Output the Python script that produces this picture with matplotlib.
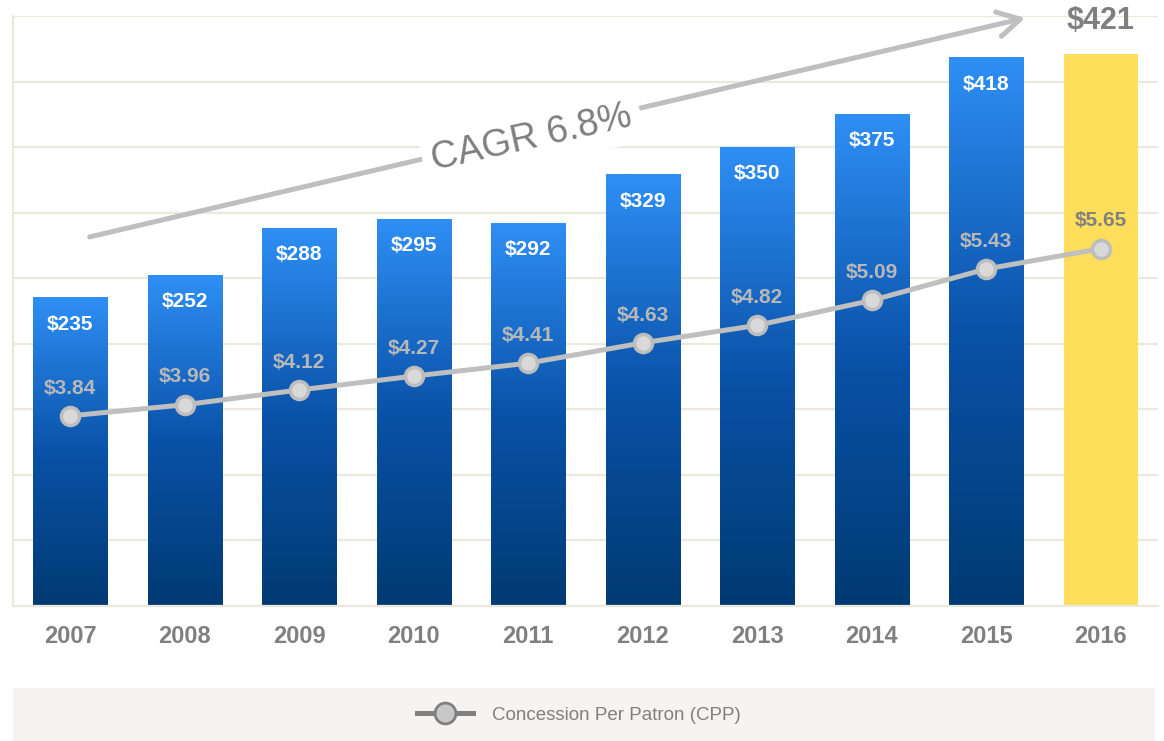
import matplotlib
matplotlib.use("Agg")
import matplotlib.pyplot as plt
import numpy as np
from matplotlib.colors import LinearSegmentedColormap
from matplotlib.lines import Line2D
from matplotlib.patches import Rectangle

plt.rcParams['font.family'] = ['Liberation Sans', 'DejaVu Sans']

# data
years = ['2007', '2008', '2009', '2010', '2011', '2012', '2013', '2014', '2015', '2016']
revenue = [235, 252, 288, 295, 292, 329, 350, 375, 418, 421]
cpp = [3.84, 3.96, 4.12, 4.27, 4.41, 4.63, 4.82, 5.09, 5.43, 5.65]
cagr_label = 'CAGR 6.8%'

grid_col = '#ece8dd'
bar_cmap = LinearSegmentedColormap.from_list('blues', ['#003a72', '#0a52a8', '#2f8ff5'])
yellow = '#fede5a'

fig = plt.figure(figsize=(11.64, 7.41), dpi=100)
ax = fig.add_axes([13 / 1164, 135 / 741, 1145 / 1164, 590 / 741])
ax2 = ax.twinx()
x = np.arange(len(years))
width = 0.65

ax.set_xlim(-0.5, len(years) - 0.5)
ax.set_ylim(0, 450)
ax.set_yticks(np.arange(0, 451, 50))
ax.yaxis.grid(True, color=grid_col, lw=1.6)
ax.set_axisbelow(True)
for s in ['top', 'right']:
    ax.spines[s].set_visible(False)
for s in ['left', 'bottom']:
    ax.spines[s].set_color(grid_col)
    ax.spines[s].set_linewidth(1.6)
ax.tick_params(axis='y', left=False, right=False, labelleft=False, labelright=False)
ax.tick_params(axis='x', bottom=False, pad=10)
ax.set_xticks(x)
ax.set_xticklabels(years, fontsize=17, fontweight='bold', color='#808080')

# gradient bars (each bar gets its own gradient)
grad = np.linspace(0, 1, 256).reshape(-1, 1)
for i, v in enumerate(revenue):
    if i == len(revenue) - 1:
        ax.bar(x[i], v, width=width, color=yellow, zorder=2)
        ax.annotate(f'${v}', (x[i], v), xytext=(0, 24), textcoords='offset points',
                    ha='center', va='center', fontsize=22, fontweight='bold', color='#7f7f7f')
    else:
        ax.imshow(grad, extent=(x[i] - width / 2, x[i] + width / 2, 0, v), origin='lower',
                  cmap=bar_cmap, aspect='auto', zorder=2)
        ax.annotate(f'${v}', (x[i], v), xytext=(0, -19), textcoords='offset points',
                    ha='center', va='center', fontsize=15, fontweight='bold', color='white', zorder=3)
ax.set_xlim(-0.5, len(years) - 0.5)
ax.set_ylim(0, 450)

# CAGR arrow
ax.annotate('', xy=(8.34, 448.5), xytext=(0.17, 281.5),
            arrowprops=dict(arrowstyle='->,head_length=0.8,head_width=0.45', color='#bfbfbf',
                            lw=3.6, mutation_scale=20, shrinkA=0, shrinkB=0), zorder=4)
ax.text(4.03, 357, cagr_label, fontsize=27, color='#7f7f7f', rotation=12.5,
        ha='center', va='center', rotation_mode='anchor', zorder=5,
        bbox=dict(boxstyle='square,pad=0.25', fc='white', ec='none'))

# CPP line on secondary scale
ax2.set_ylim(1.78, 8.17)
ax2.axis('off')
ax2.plot(x, cpp, color='#bfbfbf', lw=3.6, marker='o', markersize=13,
         markerfacecolor='#d9d9d9', markeredgecolor='#bdbdbd', markeredgewidth=2.5, zorder=3)
for i, v in enumerate(cpp):
    col = '#808080' if i == len(cpp) - 1 else '#b8b8b8'
    ax2.annotate(f'${v:.2f}', (x[i], v), xytext=(0, 20), textcoords='offset points',
                 ha='center', va='center', fontsize=15, fontweight='bold', color=col)

# legend strip
fig.patches.append(Rectangle((13 / 1164, 0), 1142 / 1164, 53 / 741, transform=fig.transFigure,
                             facecolor='#f5f4f0', edgecolor='none', zorder=0))
handle = Line2D([], [], color='#808080', lw=3.6, marker='o', markersize=15,
                markerfacecolor='#c8c8c8', markeredgecolor='#808080', markeredgewidth=2)
fig.legend([handle], ['Concession Per Patron (CPP)'], loc='center', bbox_to_anchor=(0.497, 26 / 741),
           frameon=False, fontsize=13.5, labelcolor='#808080', handlelength=3.0, handletextpad=1.0)

fig.savefig('out.png', dpi=100)
